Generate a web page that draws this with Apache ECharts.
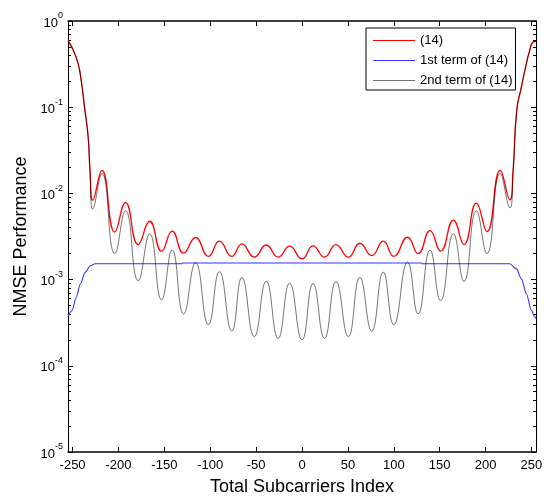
<!doctype html>
<html lang="en">

<head>
	<meta charset="utf-8">
	<title>NMSE Performance vs Total Subcarriers Index</title>
	<script src="https://cdn.jsdelivr.net/npm/echarts@6/dist/echarts.min.js"></script>
	<style>
		html, body { margin: 0; padding: 0; background: #fff; }
		#canvas1 { width: 544px; height: 498px; }
	</style>
</head>

<body>
	<div id="canvas1"></div>
	<script>
		// subcarrier index of the points (edges, then trough/peak pairs)
		var subIdx = [
			-255, -250, -244, -240.5, -237, -233, -231,
			-228, -218, -204, -192.3, -178.5, -166, -153, -141.5, -129, -116,
			-102, -90, -76.5, -65.5, -52, -39, -26, -13.5, 0, 12,
			24.5, 37, 50.5, 63, 76, 88.5, 100, 115, 126.5, 139.5,
			151, 165, 176.5, 190, 201.5, 216, 226.5,
			230, 234, 239, 244.5, 248, 251.5, 255
		];
		// (14)
		var nmseTotal = [
			0.59, 0.48, 0.32, 0.2, 0.1, 0.045, 0.0185,
			8.3e-3, 0.0185, 3.55e-3, 7.8e-3, 2.55e-3, 4.75e-3, 2.13e-3, 3.65e-3, 2.03e-3, 3.08e-3,
			1.86e-3, 2.79e-3, 1.86e-3, 2.6e-3, 1.82e-3, 2.52e-3, 1.82e-3, 2.44e-3, 1.74e-3, 2.46e-3,
			1.82e-3, 2.55e-3, 1.82e-3, 2.64e-3, 1.9e-3, 2.79e-3, 1.86e-3, 3.1e-3, 2.0e-3, 3.7e-3,
			2.14e-3, 4.9e-3, 2.55e-3, 7.7e-3, 3.6e-3, 0.0185, 8.4e-3,
			0.0185, 0.092, 0.17, 0.32, 0.45, 0.57, 0.58
		];
		// 2nd term of (14)
		var nmseTerm2 = [
			0.58, 0.47, 0.32, 0.2, 0.1, 0.044, 0.017,
			6.6e-3, 0.017, 2.0e-3, 6.3e-3, 9.7e-4, 3.4e-3, 5.8e-4, 2.2e-3, 4.0e-4, 1.57e-3,
			3.0e-4, 1.24e-3, 2.52e-4, 1.06e-3, 2.18e-4, 9.6e-4, 2.08e-4, 9.1e-4, 2.0e-4, 9.0e-4,
			2.08e-4, 9.5e-4, 2.18e-4, 1.06e-3, 2.52e-4, 1.22e-3, 3.0e-4, 1.59e-3, 4.0e-4, 2.2e-3,
			5.7e-4, 3.4e-3, 9.5e-4, 6.3e-3, 2.0e-3, 0.017, 6.8e-3,
			0.017, 0.09, 0.17, 0.32, 0.45, 0.56, 0.58
		];
		// 1st term of (14)
		var term1Idx = [-255, -250.6, -246, -241.6, -236.2, -230.7, -225.3, -131, -130,
			130, 131, 226.4, 233.7, 239.1, 244.6, 250, 253.6, 255];
		var nmseTerm1 = [3.7e-4, 4.4e-4, 6.2e-4, 8.9e-4, 1.22e-3, 1.45e-3, 1.53e-3, 1.53e-3, 1.56e-3,
			1.56e-3, 1.53e-3, 1.53e-3, 1.33e-3, 1.02e-3, 6.8e-4, 4.4e-4, 3.7e-4, 3.5e-4];

		var xTicks = [-250, -200, -150, -100, -50, 0, 50, 100, 150, 200, 250];
		var yTicks = [1e-5, 1e-4, 1e-3, 1e-2, 1e-1, 1];
		var yMinorTicks = [
			2e-5, 3e-5, 4e-5, 5e-5, 6e-5, 7e-5, 8e-5, 9e-5,
			2e-4, 3e-4, 4e-4, 5e-4, 6e-4, 7e-4, 8e-4, 9e-4,
			2e-3, 3e-3, 4e-3, 5e-3, 6e-3, 7e-3, 8e-3, 9e-3,
			2e-2, 3e-2, 4e-2, 5e-2, 6e-2, 7e-2, 8e-2, 9e-2,
			2e-1, 3e-1, 4e-1, 5e-1, 6e-1, 7e-1, 8e-1, 9e-1
		];

		var fontFam = 'Liberation Sans, Arial, sans-serif';

		function pairs(xs, ys) {
			return xs.map(function (x, i) { return [x, ys[i]]; });
		}

		function xAxisDef(position, showLabels) {
			return {
				type: 'value',
				position: position,
				min: -255,
				max: 255,
				splitLine: { show: false },
				axisLine: { onZero: false, lineStyle: { color: '#000', width: 1.5 } },
				axisTick: { inside: true, length: 5, customValues: xTicks, lineStyle: { color: '#000' } },
				axisLabel: {
					show: showLabels, customValues: xTicks, color: '#000',
					fontSize: 13, fontFamily: fontFam, margin: 7
				}
			};
		}

		function yAxisDef(position, ticks, tickLen, showLine, showLabels) {
			return {
				type: 'log',
				logBase: 10,
				position: position,
				min: 9.999e-6,
				max: 1.0001,
				splitLine: { show: false },
				axisLine: { show: showLine, onZero: false, lineStyle: { color: '#000', width: 1 } },
				axisTick: { show: true, inside: true, length: tickLen, customValues: ticks, lineStyle: { color: '#000' } },
				axisLabel: {
					show: showLabels,
					customValues: ticks,
					margin: 5,
					formatter: function (v) {
						var e = Math.round(Math.log(v) / Math.LN10);
						return '{b|10}{s|' + e + '}';
					},
					rich: {
						b: { fontSize: 13, color: '#000', fontFamily: fontFam, padding: [4, 0, 0, 0] },
						s: { fontSize: 9, color: '#000', fontFamily: fontFam, padding: [0, 0, 10, 0] }
					}
				}
			};
		}

		var xBottom = xAxisDef('bottom', true);
		xBottom.name = 'Total Subcarriers Index';
		xBottom.nameLocation = 'middle';
		xBottom.nameGap = 26;
		xBottom.nameTextStyle = { fontSize: 18, color: '#000', fontFamily: fontFam };

		var yLeft = yAxisDef('left', yTicks, 5, true, true);
		yLeft.name = 'NMSE Performance';
		yLeft.nameLocation = 'middle';
		yLeft.nameGap = 36;
		yLeft.nameTextStyle = { fontSize: 18, color: '#000', fontFamily: fontFam };

		var option = {
			animation: false,
			backgroundColor: '#fff',
			grid: { left: 68, right: 8, top: 21, bottom: 46, outerBoundsMode: 'none' },
			legend: {
				orient: 'vertical',
				left: 366,
				top: 28,
				padding: [6, 3, 3, 7],
				icon: 'rect',
				itemWidth: 42,
				itemHeight: 1.2,
				itemGap: 7,
				backgroundColor: '#fff',
				borderColor: '#000',
				borderWidth: 1,
				textStyle: { fontSize: 13, color: '#000', fontFamily: fontFam, lineHeight: 13 },
				data: ['(14)', '1st term of (14)', '2nd term of (14)']
			},
			xAxis: [xBottom, xAxisDef('top', false)],
			yAxis: [
				yLeft,
				yAxisDef('left', yMinorTicks, 3, false, false),
				yAxisDef('right', yTicks, 5, true, false),
				yAxisDef('right', yMinorTicks, 3, false, false)
			],
			series: [
				{
					name: '(14)',
					type: 'line',
					xAxisIndex: 0,
					yAxisIndex: 0,
					data: pairs(subIdx, nmseTotal),
					symbol: 'none',
					smooth: 0.5,
					lineStyle: { color: '#ff0000', width: 1.3 },
					itemStyle: { color: '#ff0000' }
				},
				{
					name: '1st term of (14)',
					type: 'line',
					xAxisIndex: 0,
					yAxisIndex: 0,
					data: pairs(term1Idx, nmseTerm1),
					symbol: 'none',
					smooth: 0.3,
					smoothMonotone: 'x',
					lineStyle: { color: '#3333ff', width: 1.1 },
					itemStyle: { color: '#3333ff' }
				},
				{
					name: '2nd term of (14)',
					type: 'line',
					xAxisIndex: 0,
					yAxisIndex: 0,
					data: pairs(subIdx, nmseTerm2),
					symbol: 'none',
					smooth: 0.5,
					lineStyle: { color: 'rgba(0,0,0,0.6)', width: 0.9 },
					itemStyle: { color: 'rgba(0,0,0,0.55)' }
				}
			]
		};

		var echartsObj = echarts.init(document.getElementById('canvas1'));
		echartsObj.setOption(option);
	</script>
</body>

</html>
